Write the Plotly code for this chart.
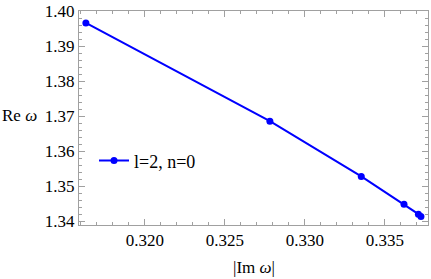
import plotly.graph_objects as go

im_omega = [0.31631, 0.32781, 0.33352, 0.33619, 0.33709, 0.33725]
re_omega = [1.3967, 1.3686, 1.3528, 1.34485, 1.34201, 1.34130]
series_name = "l=2, n=0"

FONT = "Liberation Serif"
FRAME = "#a0a0a0"

fig = go.Figure()
fig.add_trace(go.Scatter(
    x=im_omega, y=re_omega, mode="lines+markers", name=series_name,
    line=dict(color="#0000ff", width=2), marker=dict(color="#0000ff", size=7),
))

axis_common = dict(
    showline=True, linecolor=FRAME, linewidth=1, mirror="ticks",
    ticks="inside", tickcolor=FRAME, ticklen=6, tickwidth=1,
    showgrid=False, zeroline=False,
    tickfont=dict(family=FONT, size=17, color="black"),
)

fig.update_layout(
    width=431, height=279,
    font=dict(family=FONT, size=17, color="black"),
    margin=dict(l=79, r=2, t=9, b=54),
    paper_bgcolor="white", plot_bgcolor="white",
    showlegend=True,
    legend=dict(x=0.043, y=0.30, xanchor="left", yanchor="middle",
                bgcolor="rgba(0,0,0,0)", font=dict(family=FONT, size=18, color="black")),
    xaxis=dict(range=[0.31588, 0.33769], tickvals=[0.320, 0.325, 0.330, 0.335],
               ticktext=["0.320", "0.325", "0.330", "0.335"],
               minor=dict(ticks="inside", dtick=0.001, tick0=0.32, ticklen=3, tickcolor=FRAME),
               **axis_common),
    yaxis=dict(range=[1.3389, 1.4001], tickvals=[1.34, 1.35, 1.36, 1.37, 1.38, 1.39, 1.40],
               ticktext=["1.34", "1.35", "1.36", "1.37", "1.38", "1.39", "1.40"],
               minor=dict(ticks="inside", dtick=0.002, tick0=1.34, ticklen=3, tickcolor=FRAME),
               **axis_common),
    annotations=[
        dict(text="|Im <i>ω</i>|", xref="paper", yref="paper", x=0.5, y=-0.20,
             showarrow=False, xanchor="center", yanchor="middle",
             font=dict(family=FONT, size=17, color="black")),
        dict(text="Re <i>ω</i>", xref="paper", yref="paper", x=-0.225, y=0.51,
             showarrow=False, xanchor="left", yanchor="middle",
             font=dict(family=FONT, size=17, color="black")),
    ],
)

fig.write_html("out.html", config={"displayModeBar": False},
               post_script="document.body.style.margin='0px';")
